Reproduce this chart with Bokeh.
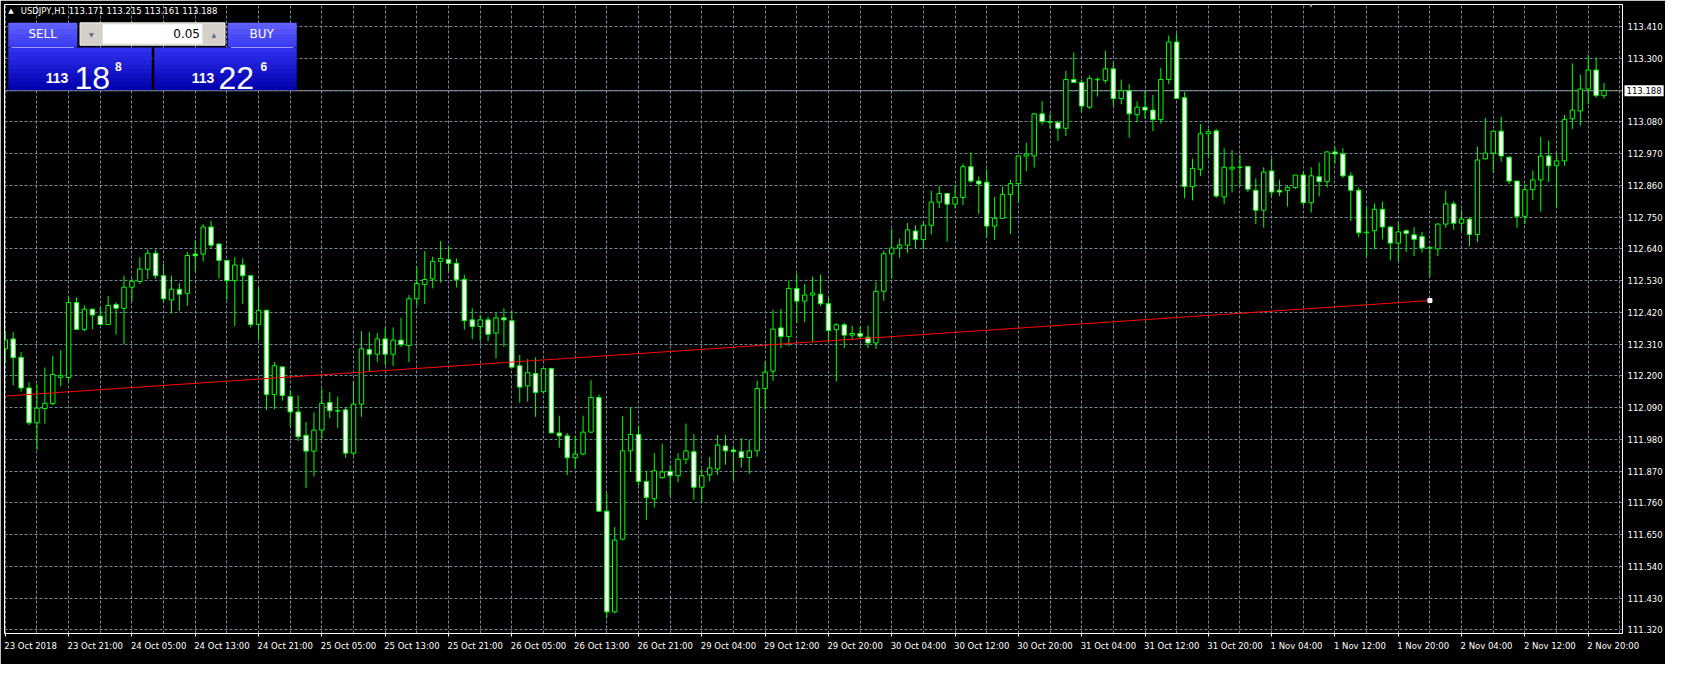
from bokeh.plotting import figure
from bokeh.models import (ColumnDataSource, FixedTicker, PrintfTickFormatter, Span,
                          Label, BoxAnnotation)
from bokeh.embed import file_html
from bokeh.resources import INLINE

# ---------------- data ----------------
symbol = "USDJPY,H1"
quote_ohlc = ["113.171", "113.215", "113.161", "113.188"]
bid = 113.188
lot = "0.05"
sell_price = ["113", "18", "8"]
buy_price = ["113", "22", "6"]

bar_open = [
    112.294, 112.328, 112.264, 112.158, 112.037, 112.087, 112.104, 112.195, 112.194, 112.454,
    112.361, 112.431, 112.407, 112.378, 112.447, 112.434, 112.507, 112.527, 112.569, 112.625,
    112.547, 112.463, 112.500, 112.486, 112.622, 112.622, 112.716, 112.657, 112.600, 112.530,
    112.584, 112.547, 112.378, 112.427, 112.135, 112.231, 112.128, 112.075, 111.994, 111.939,
    112.012, 112.108, 112.079, 112.082, 111.932, 112.102, 112.291, 112.275, 112.328, 112.275,
    112.324, 112.305, 112.467, 112.517, 112.536, 112.597, 112.603, 112.590, 112.534, 112.394,
    112.371, 112.394, 112.348, 112.401, 112.391, 112.235, 112.165, 112.208, 112.145, 112.225,
    112.002, 111.992, 111.916, 111.929, 112.005, 112.125, 111.731, 111.382, 111.634, 111.940,
    111.997, 111.834, 111.774, 111.847, 111.869, 111.854, 111.911, 111.937, 111.814, 111.857,
    111.877, 111.957, 111.943, 111.937, 111.917, 111.940, 112.156, 112.216, 112.366, 112.336,
    112.503, 112.459, 112.480, 112.483, 112.450, 112.360, 112.377, 112.341, 112.347, 112.334,
    112.314, 112.493, 112.623, 112.643, 112.653, 112.702, 112.672, 112.722, 112.802, 112.832,
    112.795, 112.818, 112.925, 112.875, 112.871, 112.719, 112.746, 112.829, 112.866, 112.962,
    112.962, 113.108, 113.081, 113.078, 113.058, 113.227, 113.217, 113.131, 113.226, 113.224,
    113.264, 113.161, 113.188, 113.105, 113.131, 113.121, 113.088, 113.227, 113.357, 113.164,
    112.856, 112.916, 113.039, 113.049, 112.820, 112.917, 112.923, 112.926, 112.843, 112.774,
    112.910, 112.843, 112.843, 112.853, 112.896, 112.800, 112.890, 112.873, 112.976, 112.969,
    112.893, 112.843, 112.696, 112.703, 112.777, 112.716, 112.660, 112.703, 112.689, 112.683,
    112.643, 112.640, 112.726, 112.796, 112.729, 112.743, 112.690, 112.952, 112.972, 113.048,
    112.958, 112.875, 112.753, 112.845, 112.879, 112.962, 112.928, 112.945, 113.091, 113.118,
    113.194, 113.260, 113.171]

bar_high = [
    112.355, 112.352, 112.282, 112.178, 112.171, 112.229, 112.269, 112.289, 112.472, 112.472,
    112.444, 112.434, 112.438, 112.477, 112.455, 112.547, 112.538, 112.611, 112.638, 112.638,
    112.588, 112.547, 112.521, 112.630, 112.669, 112.726, 112.738, 112.660, 112.602, 112.611,
    112.607, 112.548, 112.505, 112.430, 112.248, 112.233, 112.150, 112.132, 112.040, 112.073,
    112.155, 112.143, 112.128, 112.092, 112.179, 112.355, 112.351, 112.348, 112.368, 112.368,
    112.401, 112.480, 112.577, 112.633, 112.613, 112.667, 112.650, 112.607, 112.550, 112.434,
    112.411, 112.405, 112.417, 112.434, 112.427, 112.272, 112.258, 112.264, 112.225, 112.228,
    112.062, 112.002, 111.992, 112.062, 112.185, 112.135, 111.794, 111.676, 112.061, 112.091,
    112.027, 111.871, 111.932, 111.965, 111.891, 111.932, 112.035, 111.998, 111.877, 111.918,
    111.995, 111.994, 111.954, 111.984, 111.977, 112.183, 112.249, 112.429, 112.432, 112.530,
    112.554, 112.518, 112.544, 112.551, 112.470, 112.383, 112.384, 112.374, 112.370, 112.374,
    112.526, 112.634, 112.709, 112.676, 112.730, 112.722, 112.732, 112.842, 112.858, 112.833,
    112.858, 112.936, 112.974, 112.891, 112.915, 112.820, 112.856, 112.879, 112.962, 113.008,
    113.111, 113.152, 113.108, 113.085, 113.257, 113.320, 113.227, 113.241, 113.234, 113.327,
    113.287, 113.227, 113.211, 113.151, 113.188, 113.174, 113.267, 113.380, 113.387, 113.184,
    112.953, 113.073, 113.056, 113.056, 112.989, 112.983, 112.966, 112.926, 112.884, 112.923,
    112.953, 112.880, 112.860, 112.896, 112.906, 112.923, 112.940, 112.979, 112.993, 112.989,
    112.906, 112.853, 112.787, 112.797, 112.804, 112.718, 112.733, 112.708, 112.716, 112.699,
    112.650, 112.729, 112.842, 112.806, 112.776, 112.749, 112.995, 113.094, 113.051, 113.098,
    112.960, 112.876, 112.864, 112.912, 113.028, 113.015, 112.968, 113.104, 113.283, 113.244,
    113.313, 113.303, 113.215]

bar_low = [
    112.245, 112.167, 112.145, 112.029, 111.944, 112.034, 112.099, 112.164, 112.184, 112.361,
    112.355, 112.361, 112.378, 112.378, 112.343, 112.310, 112.458, 112.519, 112.536, 112.536,
    112.455, 112.416, 112.425, 112.443, 112.562, 112.596, 112.643, 112.538, 112.463, 112.372,
    112.450, 112.367, 112.324, 112.082, 112.084, 112.114, 112.025, 111.974, 111.811, 111.851,
    111.983, 112.054, 112.020, 111.916, 111.924, 112.058, 112.215, 112.248, 112.237, 112.234,
    112.300, 112.247, 112.444, 112.449, 112.503, 112.523, 112.564, 112.506, 112.360, 112.327,
    112.323, 112.320, 112.260, 112.300, 112.225, 112.107, 112.111, 112.058, 112.138, 112.002,
    111.951, 111.856, 111.878, 111.925, 112.002, 111.728, 111.362, 111.377, 111.630, 111.867,
    111.821, 111.701, 111.744, 111.843, 111.784, 111.831, 111.894, 111.770, 111.763, 111.834,
    111.857, 111.892, 111.836, 111.882, 111.860, 111.920, 112.083, 112.183, 112.296, 112.303,
    112.383, 112.386, 112.318, 112.442, 112.318, 112.180, 112.296, 112.327, 112.327, 112.296,
    112.293, 112.460, 112.537, 112.609, 112.626, 112.639, 112.639, 112.690, 112.781, 112.665,
    112.781, 112.792, 112.868, 112.761, 112.681, 112.671, 112.743, 112.692, 112.803, 112.909,
    112.922, 113.071, 113.055, 113.014, 113.031, 113.215, 113.115, 113.125, 113.168, 113.214,
    113.135, 113.141, 113.025, 113.078, 113.091, 113.048, 113.075, 113.211, 113.160, 112.815,
    112.808, 112.892, 112.956, 112.817, 112.796, 112.836, 112.857, 112.837, 112.726, 112.713,
    112.820, 112.823, 112.787, 112.847, 112.790, 112.766, 112.822, 112.853, 112.936, 112.886,
    112.736, 112.680, 112.613, 112.638, 112.673, 112.600, 112.597, 112.629, 112.615, 112.627,
    112.544, 112.615, 112.713, 112.706, 112.703, 112.650, 112.663, 112.951, 112.905, 112.942,
    112.865, 112.713, 112.726, 112.809, 112.769, 112.872, 112.782, 112.928, 113.055, 113.068,
    113.141, 113.164, 113.161]

bar_close = [
    112.324, 112.263, 112.158, 112.037, 112.088, 112.105, 112.205, 112.201, 112.454, 112.361,
    112.431, 112.411, 112.378, 112.444, 112.434, 112.507, 112.528, 112.570, 112.625, 112.547,
    112.467, 112.500, 112.483, 112.617, 112.616, 112.716, 112.653, 112.600, 112.530, 112.584,
    112.547, 112.378, 112.427, 112.135, 112.235, 112.132, 112.075, 111.989, 111.939, 112.012,
    112.105, 112.079, 112.078, 111.932, 112.102, 112.294, 112.275, 112.328, 112.275, 112.324,
    112.308, 112.467, 112.520, 112.534, 112.597, 112.607, 112.590, 112.533, 112.391, 112.371,
    112.394, 112.344, 112.401, 112.394, 112.230, 112.161, 112.211, 112.142, 112.225, 112.002,
    111.992, 111.916, 111.929, 112.005, 112.125, 111.731, 111.382, 111.631, 111.940, 111.997,
    111.834, 111.778, 111.871, 111.867, 111.854, 111.911, 111.940, 111.814, 111.854, 111.881,
    111.960, 111.940, 111.937, 111.917, 111.940, 112.156, 112.213, 112.362, 112.336, 112.503,
    112.459, 112.480, 112.487, 112.450, 112.357, 112.377, 112.341, 112.347, 112.337, 112.314,
    112.493, 112.623, 112.643, 112.653, 112.706, 112.672, 112.722, 112.802, 112.832, 112.795,
    112.818, 112.925, 112.875, 112.865, 112.719, 112.746, 112.829, 112.866, 112.962, 112.969,
    113.108, 113.081, 113.079, 113.058, 113.227, 113.217, 113.135, 113.231, 113.228, 113.264,
    113.161, 113.188, 113.108, 113.131, 113.121, 113.088, 113.227, 113.357, 113.161, 112.856,
    112.919, 113.039, 113.046, 112.823, 112.923, 112.923, 112.923, 112.847, 112.774, 112.906,
    112.837, 112.837, 112.853, 112.896, 112.800, 112.893, 112.873, 112.976, 112.969, 112.893,
    112.843, 112.696, 112.698, 112.777, 112.716, 112.660, 112.699, 112.693, 112.673, 112.643,
    112.644, 112.726, 112.796, 112.729, 112.743, 112.690, 112.948, 112.972, 113.048, 112.962,
    112.875, 112.753, 112.845, 112.879, 112.962, 112.928, 112.945, 113.088, 113.121, 113.194,
    113.260, 113.171, 113.188]

time_labels = ["23 Oct 2018", "23 Oct 21:00", "24 Oct 05:00", "24 Oct 13:00", "24 Oct 21:00",
               "25 Oct 05:00", "25 Oct 13:00", "25 Oct 21:00", "26 Oct 05:00", "26 Oct 13:00",
               "26 Oct 21:00", "29 Oct 04:00", "29 Oct 12:00", "29 Oct 20:00", "30 Oct 04:00",
               "30 Oct 12:00", "30 Oct 20:00", "31 Oct 04:00", "31 Oct 12:00", "31 Oct 20:00",
               "1 Nov 04:00", "1 Nov 12:00", "1 Nov 20:00", "2 Nov 04:00", "2 Nov 12:00",
               "2 Nov 20:00"]
bars_per_label = 8
bars_per_grid = 4

price_levels = [113.41, 113.30, 113.19, 113.08, 112.97, 112.86, 112.75, 112.64, 112.53, 112.42,
                112.31, 112.20, 112.09, 111.98, 111.87, 111.76, 111.65, 111.54, 111.43, 111.32]

trend_bars = [0, 180]
trend_prices = [112.130, 112.461]

n = len(bar_open)
assert len(bar_high) == n and len(bar_low) == n and len(bar_close) == n, (
    len(bar_open), len(bar_high), len(bar_low), len(bar_close))

# ---------------- styling / geometry ----------------
W, H = 1665, 664
BL, BT, BR, BB = 4, 4, 41, 28
FW, FH = W - BL - BR, H - BT - BB
X0, X1 = -0.1, 204.33
Y0, Y1 = 111.307, 113.487
GREEN = "#00ff00"
GRID = "#778899"
AXFONT = "DejaVu Sans"
AXSIZE = 8.5

p = figure(width=W, height=H, x_range=(X0, X1), y_range=(Y0, Y1),
           y_axis_location="right", output_backend="svg", toolbar_location=None,
           min_border_left=BL, min_border_top=BT, min_border_right=BR, min_border_bottom=BB,
           background_fill_color="black", border_fill_color="black",
           outline_line_color="white", outline_line_width=1)

# y axis (price scale)
nearest = min(price_levels, key=lambda v: abs(v - bid))
p.yaxis.ticker = FixedTicker(ticks=price_levels)
p.yaxis.formatter = PrintfTickFormatter(format="%.3f")
p.yaxis.major_label_overrides = {nearest: ""}
p.yaxis.major_tick_out = 0
p.yaxis.major_tick_in = 0
p.yaxis.minor_tick_out = 0
p.yaxis.minor_tick_in = 0
p.yaxis.axis_line_color = "white"
p.yaxis.major_label_standoff = 5
p.yaxis.major_label_text_color = "white"
p.yaxis.major_label_text_font = AXFONT
p.yaxis.major_label_text_font_size = f"{AXSIZE}px"

# x axis (time scale): labels left-aligned at their tick, MT4 style
px_per_bar = FW / (X1 - X0)
cw = {" ": 0.318, ":": 0.337, "O": 0.787, "c": 0.55, "t": 0.392, "N": 0.748,
      "o": 0.612, "v": 0.592}
def text_w(s, size=AXSIZE):
    return sum(cw.get(ch, 0.636) for ch in s) * size

label_pos = [i * bars_per_label for i in range(len(time_labels))]
centers = [round(pos + (text_w(lbl) / 2 - 1) / px_per_bar, 4)
           for pos, lbl in zip(label_pos, time_labels)]
p.xaxis.ticker = FixedTicker(ticks=centers, minor_ticks=label_pos)
p.xaxis.major_label_overrides = {c: lbl for c, lbl in zip(centers, time_labels)}
p.xaxis.major_tick_out = 0
p.xaxis.major_tick_in = 0
p.xaxis.minor_tick_out = 3
p.xaxis.minor_tick_in = 0
p.xaxis.minor_tick_line_color = "white"
p.xaxis.axis_line_color = "white"
p.xaxis.major_label_standoff = 4
p.xaxis.major_label_text_color = "white"
p.xaxis.major_label_text_font = AXFONT
p.xaxis.major_label_text_font_size = f"{AXSIZE}px"

# grids
p.xgrid.ticker = FixedTicker(ticks=list(range(0, int(X1) + 1, bars_per_grid)))
p.ygrid.ticker = FixedTicker(ticks=price_levels)
for g in (p.xgrid, p.ygrid):
    g.grid_line_color = GRID
    g.grid_line_dash = "3 2"
    g.grid_line_width = 1

# bid line
p.add_layout(Span(location=bid, dimension="width", line_color="#8a96a3", line_width=1,
                  level="underlay"))

# candles
idx = list(range(n))
src = ColumnDataSource(dict(
    x=idx, high=bar_high, low=bar_low,
    top=[max(o, c) for o, c in zip(bar_open, bar_close)],
    bottom=[min(o, c) for o, c in zip(bar_open, bar_close)],
    fill=["white" if c < o else "black" for o, c in zip(bar_open, bar_close)],
))
p.segment(x0="x", y0="high", x1="x", y1="low", source=src, line_color=GREEN, line_width=1)
p.vbar(x="x", width=0.56, top="top", bottom="bottom", source=src,
       fill_color="fill", line_color=GREEN, line_width=1)

# trend line
p.line(trend_bars, trend_prices, line_color="#ff0000", line_width=1)
p.scatter([trend_bars[-1]], [trend_prices[-1]], marker="square", size=4,
          fill_color="white", line_color="white")

# ---------------- overlay panel (screen units, relative to frame) ----------------
REF_L, REF_T = 4.5, 4.0
def sx(xr):
    return xr - REF_L
def sy(yr):
    return FH - (yr - REF_T)

def box(x0, y0, x1, y1, color, line=None):
    p.add_layout(BoxAnnotation(left=sx(x0), right=sx(x1), top=sy(y0), bottom=sy(y1),
                               left_units="screen", right_units="screen",
                               top_units="screen", bottom_units="screen",
                               fill_color=color, fill_alpha=1.0,
                               line_color=line, line_alpha=1.0 if line else 0.0,
                               line_width=1))

def hexmix(c1, c2, t):
    a = [int(c1[i:i + 2], 16) for i in (1, 3, 5)]
    b = [int(c2[i:i + 2], 16) for i in (1, 3, 5)]
    return "#" + "".join(f"{round(u + (v - u) * t):02x}" for u, v in zip(a, b))

def gbox(x0, y0, x1, y1, ctop, cbot, bands=10):
    h = (y1 - y0) / bands
    for k in range(bands):
        box(x0, y0 + k * h, x1, min(y1, y0 + (k + 1) * h + 0.6), hexmix(ctop, cbot, k / (bands - 1)))

def text(xr, yr, s, size, color="white", font=AXFONT, style="normal",
         align="left", baseline="alphabetic"):
    p.add_layout(Label(x=sx(xr), y=sy(yr), x_units="screen", y_units="screen", text=s,
                       text_color=color, text_font=font, text_font_size=f"{size}px",
                       text_font_style=style, text_align=align, text_baseline=baseline))

# title
text(8.3, 13.0, "\u25b2", 7, baseline="middle")
text(20.7, 13.0, symbol + "  " + " ".join(quote_ohlc), 8.5, baseline="middle")

# chart-shift marker
text(1311, 3.5, "\u25bc", 7, color="#9aa0a6", align="center", baseline="top")

# SELL / BUY buttons
gbox(8.3, 25.3, 77.3, 50.0, "#6262ff", "#3a3af2")
gbox(227.7, 25.3, 296.7, 50.0, "#6262ff", "#3a3af2")
gbox(8.3, 50.0, 151.7, 92.7, "#3030ee", "#0202ae")
gbox(154.3, 50.0, 296.7, 92.7, "#3030ee", "#0202ae")
box(11.7, 49.4, 74.0, 50.4, "#9a9aff")
box(231.0, 49.4, 293.3, 50.4, "#9a9aff")

# lot control
box(80.0, 25.3, 225.0, 47.7, "#d4d0c8", "#f0f0f0")
box(102.7, 26.7, 202.3, 46.3, "#ffffff")
text(91.3, 36.5, "\u25bc", 6, color="#5a6a8a", align="center", baseline="middle")
text(213.7, 36.5, "\u25b2", 6, color="#5a6a8a", align="center", baseline="middle")
text(200.0, 36.3, lot, 12, color="black", align="right", baseline="middle")

text(42.7, 36.8, "SELL", 12, align="center", baseline="middle")
text(261.7, 36.8, "BUY", 12, align="center", baseline="middle")

BIGFONT = "Liberation Sans"
text(45.7, 80.0, sell_price[0], 14, font=BIGFONT, style="bold")
text(74.5, 80.0, sell_price[1], 32, font=BIGFONT)
text(115.0, 68.5, sell_price[2], 12, font=BIGFONT, style="bold")
text(191.7, 80.0, buy_price[0], 14, font=BIGFONT, style="bold")
text(218.5, 80.0, buy_price[1], 32, font=BIGFONT)
text(260.5, 68.5, buy_price[2], 12, font=BIGFONT, style="bold")

# bid price tag on the price scale (kept in a side panel so it is not clipped to the frame;
# positioned in data units next to the right edge of the frame)
p.add_layout(Label(x=X1 + 2 / px_per_bar, x_units="data", y=bid, y_units="data",
                   text=f"{bid:.3f}", text_color="black", text_font=AXFONT,
                   text_font_size=f"{AXSIZE}px", text_baseline="middle", text_align="left",
                   background_fill_color="white", padding=2), "below")

open("out.html", "w").write(file_html(p, INLINE, "USDJPY,H1"))
